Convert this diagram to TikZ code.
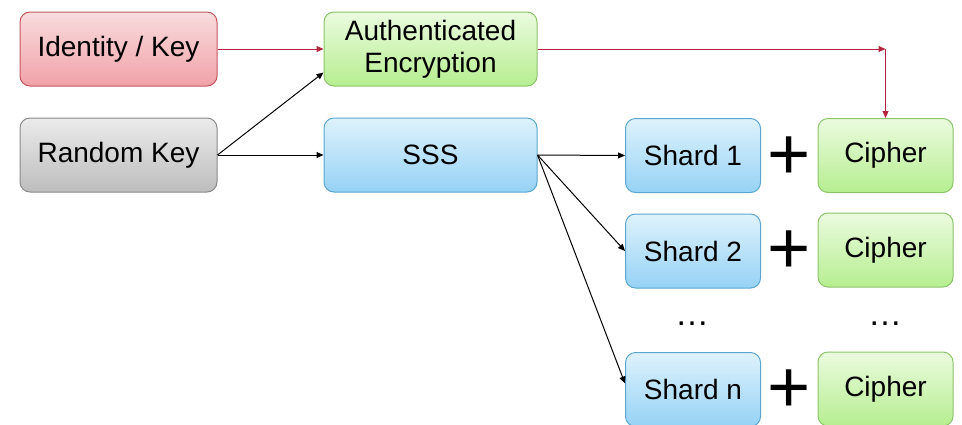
\documentclass[tikz,border=0pt]{standalone}
\usepackage{fontspec}
\setmainfont{Liberation Sans}
\usetikzlibrary{arrows.meta,calc}
\definecolor{redTop}{HTML}{F9DCDE}
\definecolor{redBot}{HTML}{F0A2A8}
\definecolor{redBorder}{HTML}{C4575E}
\definecolor{grayTop}{HTML}{EBEBEB}
\definecolor{grayBot}{HTML}{BDBDBD}
\definecolor{grayBorder}{HTML}{8A8A8A}
\definecolor{greenTop}{HTML}{EBFBDF}
\definecolor{greenBot}{HTML}{B6EE90}
\definecolor{greenBorder}{HTML}{8CC46A}
\definecolor{blueTop}{HTML}{DEF2FC}
\definecolor{blueBot}{HTML}{96D2F5}
\definecolor{blueBorder}{HTML}{5AA6CF}
\definecolor{redLine}{HTML}{B3263F}
\begin{document}
\begin{tikzpicture}[x=0.5pt,y=-0.5pt,
  box/.style={rounded corners=5pt, line width=0.5pt, minimum height=37pt,
    inner sep=0pt, align=center, font=\fontsize{14}{16}\selectfont},
  redbox/.style={box, minimum width=98.5pt, top color=redTop, bottom color=redBot, draw=redBorder},
  graybox/.style={box, minimum width=98.5pt, top color=grayTop, bottom color=grayBot, draw=grayBorder},
  widegreen/.style={box, minimum width=106.5pt, top color=greenTop, bottom color=greenBot, draw=greenBorder},
  wideblue/.style={box, minimum width=106.5pt, top color=blueTop, bottom color=blueBot, draw=blueBorder},
  shardbox/.style={box, minimum width=67.5pt, top color=blueTop, bottom color=blueBot, draw=blueBorder},
  cipherbox/.style={box, minimum width=67.5pt, top color=greenTop, bottom color=greenBot, draw=greenBorder},
  plussign/.style={inner sep=0pt, font=\fontsize{37}{37}\selectfont},
  dotsign/.style={inner sep=0pt, font=\fontsize{17}{17}\selectfont},
  blackarr/.style={line width=0.5pt, -{Triangle[length=3.5pt,width=3pt]}},
  redarr/.style={line width=0.5pt, draw=redLine, -{Triangle[length=3.5pt,width=3pt]}, color=redLine},
]
\useasboundingbox (0,0) rectangle (962,424);

\node[redbox] (id) at (118.5,49) {Identity / Key};
\node[graybox] (rk) at (118.5,155) {Random Key};
\node[widegreen] (ae) at (430.5,49) {Authenticated\\Encryption};
\node[wideblue] (sss) at (430.5,155) {SSS};

\node[shardbox] (sh1) at (693,155.5) {Shard 1};
\node[cipherbox] (c1) at (885.5,155.5) {Cipher};
\node[shardbox] (sh2) at (693,251) {Shard 2};
\node[cipherbox] (c2) at (885.5,250) {Cipher};
\node[shardbox] (shn) at (693,389.5) {Shard n};
\node[cipherbox] (cn) at (885.5,389) {Cipher};

\node[plussign] (p1) at (789.5,158) {+};
\node[plussign] (p2) at (789.5,252) {+};
\node[plussign] (pn) at (789.5,391) {+};

\node[dotsign] (d1) at (692,324) {…};
\node[dotsign] (d2) at (885,324) {…};

\draw[redarr] (id.east) -- (ae.west);
\draw[blackarr] (rk.east) -- ([yshift=7pt]ae.south west);
\draw[blackarr] (rk.east) -- (sss.west);

\coordinate (corner) at (c1.north |- ae.east);
\draw[redarr] (ae.east) -- (corner);
\draw[redarr] (corner) -- (c1.north);

\draw[blackarr] (sss.east) -- (sh1.west);
\draw[blackarr] (sss.east) -- (sh2.west);
\draw[blackarr] (sss.east) -- ([yshift=3pt]shn.west);
\end{tikzpicture}
\end{document}
